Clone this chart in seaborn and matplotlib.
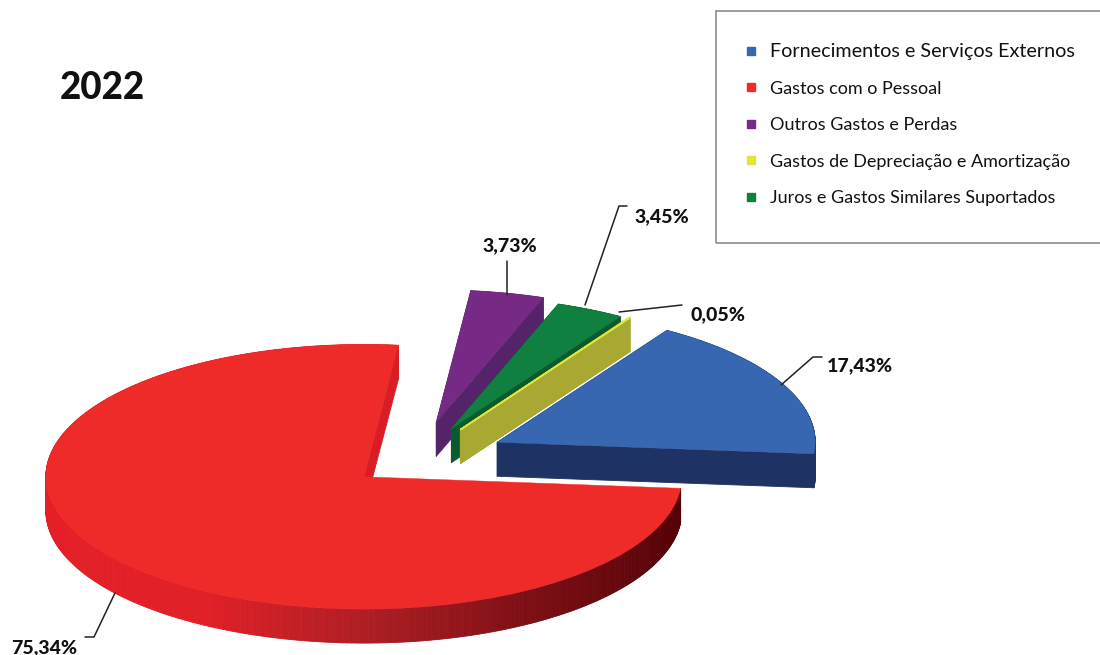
import numpy as np
import matplotlib
matplotlib.use("Agg")
import matplotlib.pyplot as plt
from matplotlib.collections import PolyCollection
from matplotlib.colors import LinearSegmentedColormap
from matplotlib.lines import Line2D
from matplotlib.patches import Rectangle
import seaborn as sns

# ---- data ----
title = "2022"
categories = ["Fornecimentos e Serviços Externos", "Gastos de Depreciação e Amortização",
              "Juros e Gastos Similares Suportados", "Outros Gastos e Perdas", "Gastos com o Pessoal"]
values = [17.43, 0.05, 3.45, 3.73, 75.34]
legend_order = [0, 4, 3, 1, 2]

# ---- style ----
top_colors = ["#3767b1", "#e3e43a", "#0f8040", "#762a85", "#ef2b2a"]
wall_colors = ["#1f3264", "#a8a832", "#0b5a2c", "#55236a", "#d81e24"]
explode = [0.285, 0.262, 0.255, 0.285, 0.212]
start_angle = -5
PX_W, PX_H = 1100, 655
CX, CY, R, SQUASH = 416, 459, 318, 0.416
DEPTH = 34 / (R * SQUASH)
draw_order = [3, 2, 1, 0, 4]

sns.set_theme(style="white")
plt.rcParams["font.family"] = ["Lato", "DejaVu Sans"]
fig, ax = plt.subplots(figsize=(PX_W / 100, PX_H / 100), dpi=100)
ax.set_position([0, 0, 1, 1])

wedges, _ = ax.pie(values, colors=top_colors, explode=explode, startangle=start_angle,
                   counterclock=True, radius=1, frame=True)
ax.set_aspect("auto")
ax.set_xlim(-CX / R, (PX_W - CX) / R)
ax.set_ylim(-(PX_H - CY) / (R * SQUASH), CY / (R * SQUASH))
ax.set_axis_off()

red_cmap = LinearSegmentedColormap.from_list(
    "redwall", ["#e51f27", "#e01f26", "#ac1e24", "#7d0f14", "#520006"])


def outline(w):
    t = np.radians(np.linspace(w.theta1, w.theta2, max(int(w.theta2 - w.theta1) * 2, 3)))
    cx, cy = w.center
    return cx + w.r * np.cos(t), cy + w.r * np.sin(t), cx, cy


for z, i in enumerate(draw_order):
    w = wedges[i]
    xs, ys, cx, cy = outline(w)
    xa = np.r_[cx, xs, cx]
    ya = np.r_[cy, ys, cy]
    quads, cols = [], []
    x0, x1 = (48 - CX) / R, (690 - CX) / R
    is_main = i == 4
    n_edges = len(xa) - 2 if is_main else len(xa) - 1   # closing cut of the big slice faces away
    for j in range(n_edges):
        quads.append([(xa[j], ya[j]), (xa[j + 1], ya[j + 1]),
                      (xa[j + 1], ya[j + 1] - DEPTH), (xa[j], ya[j] - DEPTH)])
        if is_main and j > 0 and ya[j] < cy:
            cols.append(red_cmap(np.clip((xa[j] - x0) / (x1 - x0), 0, 1)))
        elif is_main and j > 0 and xa[j] > cx + 0.8:
            cols.append("#520006")
        else:
            cols.append(wall_colors[i])
    ax.add_collection(PolyCollection(quads, facecolors=cols, edgecolors=cols,
                                     linewidths=0.6, zorder=2 + 2 * z))
    w.set_zorder(3 + 2 * z)
    w.set_edgecolor(top_colors[i])
    w.set_linewidth(1.2 if i == 1 else 0.3)

# ---- text ----
px = fig.transFigure


def P(x, y):
    return x / PX_W, 1 - y / PX_H


fig.text(*P(60, 88), title, fontsize=26.5, fontweight=900, color="#111111", va="center", ha="left")

label_pos = [(860, 366), (718, 315), (662, 217), (510, 246), (44, 648)]
leaders = [[(822, 357), (813, 357), (781, 385)],
           [(682, 305), (619, 312)],
           [(627, 206), (619, 206), (585, 305)],
           [(507, 261), (507, 295)],
           [(85, 637), (94, 637), (115, 593)]]
for v, lp, ld in zip(values, label_pos, leaders):
    fig.text(*P(*lp), f"{v:.2f}".replace(".", ",") + "%", fontsize=14, fontweight=900,
             color="#111111", ha="center", va="center")
    pts = [P(*q) for q in ld]
    fig.add_artist(Line2D([p[0] for p in pts], [p[1] for p in pts], transform=px,
                          color="#222222", lw=1.1))

# ---- legend ----
x0, y0 = P(716, 243)
x1, y1 = P(1106, 11)
fig.add_artist(Rectangle((x0, y0), x1 - x0, y1 - y0, transform=px, fill=False,
                         edgecolor="#8c8c8c", lw=1.2))
handles = [Line2D([], [], linestyle="none", marker="s", markersize=6, color=top_colors[i],
                  label=categories[i]) for i in legend_order]
leg = fig.legend(handles=handles, loc="upper left", bbox_to_anchor=P(742, 43), frameon=False,
                 fontsize=13, labelspacing=1.14, handletextpad=0.55, handlelength=1.0,
                 borderpad=0, borderaxespad=0, labelcolor="#111111")
leg.get_texts()[0].set_fontsize(14.2)

fig.savefig("out.png", dpi=100)
